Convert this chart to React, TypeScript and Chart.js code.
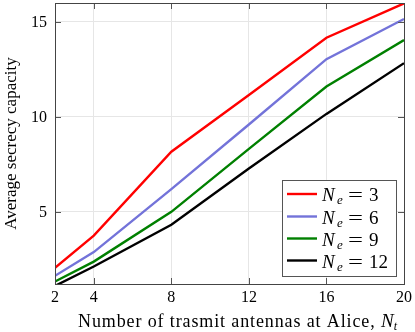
import React, { useEffect, useRef } from "react";
import { Chart, registerables } from "chart.js";
Chart.register(...registerables);

const xValues = [2, 4, 8, 12, 16, 20];
const ne3 = [2.05, 3.75, 8.17, 11.15, 14.17, 15.98];
const ne6 = [1.63, 2.88, 6.2, 9.6, 13.04, 15.16];
const ne9 = [1.33, 2.38, 5.0, 8.32, 11.6, 14.05];
const ne12 = [1.1, 2.12, 4.32, 7.28, 10.16, 12.83];
const neLabels = ["3", "6", "9", "12"];
const seriesColors = ["#ff0000", "#7373d9", "#008000", "#000000"];
const xTicks = [2, 4, 8, 12, 16, 20];
const yTicks = [5, 10, 15];
const xTitle = "Number of trasmit antennas at Alice, ";
const yTitle = "Average secrecy capacity";

const FONT = '"Liberation Serif", serif';

const framePlugin = {
  id: "frame",
  afterDraw(chart: any) {
    const { ctx, chartArea: a, scales } = chart;
    ctx.save();
    ctx.strokeStyle = "#555";
    ctx.lineWidth = 1;
    const tl = 6;
    for (const v of xTicks) {
      const px = Math.round(scales.x.getPixelForValue(v)) + 0.5;
      ctx.beginPath();
      ctx.moveTo(px, a.bottom);
      ctx.lineTo(px, a.bottom - tl);
      ctx.moveTo(px, a.top);
      ctx.lineTo(px, a.top + tl);
      ctx.stroke();
    }
    for (const v of yTicks) {
      const py = Math.round(scales.y.getPixelForValue(v)) + 0.5;
      ctx.beginPath();
      ctx.moveTo(a.left, py);
      ctx.lineTo(a.left + tl, py);
      ctx.moveTo(a.right, py);
      ctx.lineTo(a.right - tl, py);
      ctx.stroke();
    }
    ctx.strokeStyle = "#444";
    ctx.strokeRect(Math.round(a.left) + 0.5, Math.round(a.top) + 0.5, Math.round(a.right - a.left), Math.round(a.bottom - a.top));

    // tick labels
    ctx.fillStyle = "#000";
    ctx.font = `16px ${FONT}`;
    ctx.textAlign = "center";
    ctx.textBaseline = "alphabetic";
    for (const v of xTicks) {
      ctx.fillText(String(v), scales.x.getPixelForValue(v), 302);
    }
    ctx.textAlign = "right";
    ctx.textBaseline = "middle";
    for (const v of yTicks) {
      ctx.fillText(String(v), 47, scales.y.getPixelForValue(v) + 1);
    }

    // x title
    ctx.textBaseline = "alphabetic";
    ctx.textAlign = "left";
    ctx.font = `18px ${FONT}`;
    const natural = ctx.measureText(xTitle).width;
    ctx.font = `italic 19px ${FONT}`;
    const nW = ctx.measureText("N").width;
    ctx.font = `italic 12px ${FONT}`;
    const tW = ctx.measureText("t").width;
    const x0 = 78, x1 = 397;
    const avail = x1 - x0 - nW - tW;
    const ls = (avail - natural) / xTitle.length;
    ctx.font = `18px ${FONT}`;
    (ctx as any).letterSpacing = `${ls}px`;
    ctx.fillText(xTitle, x0, 327);
    (ctx as any).letterSpacing = "0px";
    const nx = x1 - nW - tW;
    ctx.font = `italic 19px ${FONT}`;
    ctx.fillText("N", nx, 327);
    ctx.font = `italic 12px ${FONT}`;
    ctx.fillText("t", nx + nW, 330);

    // y title
    ctx.save();
    ctx.translate(16, 143.5);
    ctx.rotate(-Math.PI / 2);
    ctx.font = `17px ${FONT}`;
    ctx.textAlign = "center";
    ctx.fillText(yTitle, 0, 0);
    ctx.restore();

    // legend
    const lx = 282, ly = 180, lw = 114, lh = 96;
    ctx.fillStyle = "#fff";
    ctx.fillRect(lx, ly, lw, lh);
    ctx.strokeStyle = "#555";
    ctx.lineWidth = 1;
    ctx.strokeRect(lx + 0.5, ly + 0.5, lw, lh);
    const rows = [194, 216.5, 238.5, 260.5];
    chart.data.datasets.forEach((ds: any, i: number) => {
      const ry = rows[i];
      ctx.strokeStyle = ds.borderColor;
      ctx.lineWidth = 2.4;
      ctx.beginPath();
      ctx.moveTo(287, ry);
      ctx.lineTo(317, ry);
      ctx.stroke();
      ctx.fillStyle = "#000";
      ctx.textAlign = "left";
      const by = ry + 7;
      ctx.font = `italic 19px ${FONT}`;
      ctx.fillText("N", 322, by);
      ctx.font = `italic 13px ${FONT}`;
      ctx.fillText("e", 337, by + 3);
      ctx.save();
      ctx.translate(348, by);
      ctx.scale(1.4, 1);
      ctx.font = `19px ${FONT}`;
      ctx.fillText("=", 0, 0);
      ctx.restore();
      ctx.font = `19px ${FONT}`;
      ctx.fillText(neLabels[i], 369, by);
    });
    ctx.restore();
  },
};

const noPad = (s: any) => {
  s.paddingTop = 0;
  s.paddingBottom = 0;
  s.paddingLeft = 0;
  s.paddingRight = 0;
};

export default function App() {
  const ref = useRef<HTMLCanvasElement>(null);
  useEffect(() => {
    const all = [ne3, ne6, ne9, ne12];
    const chart = new Chart(ref.current!, {
      type: "line",
      data: {
        datasets: all.map((s, i) => ({
          label: "N_e = " + neLabels[i],
          data: s.map((v, j) => ({ x: xValues[j], y: v })),
          borderColor: seriesColors[i],
          backgroundColor: seriesColors[i],
          borderWidth: 2.4,
          pointRadius: 0,
          tension: 0,
        })),
      },
      options: {
        animation: false,
        responsive: false,
        devicePixelRatio: 1,
        layout: { padding: { top: 3, right: 11, left: 0, bottom: 0 } },
        plugins: { legend: { display: false }, tooltip: { enabled: false } },
        scales: {
          x: {
            type: "linear",
            min: 2,
            max: 20,
            afterBuildTicks: (s: any) => { s.ticks = xTicks.map((v) => ({ value: v })); },
            afterFit: (s: any) => { s.height = 48; noPad(s); },
            grid: { color: "#e6e6e6", drawTicks: false },
            border: { display: false },
            ticks: { display: false },
          },
          y: {
            type: "linear",
            min: 1.2,
            max: 16,
            afterBuildTicks: (s: any) => { s.ticks = yTicks.map((v) => ({ value: v })); },
            afterFit: (s: any) => { s.width = 55; noPad(s); },
            grid: { color: "#e6e6e6", drawTicks: false },
            border: { display: false },
            ticks: { display: false },
          },
        },
      },
      plugins: [framePlugin],
    } as any);
    return () => chart.destroy();
  }, []);
  return (
    <div style={{ position: "fixed", left: 0, top: 0, width: 415, height: 332, background: "#fff" }}>
      <canvas ref={ref} width={415} height={332} />
    </div>
  );
}
